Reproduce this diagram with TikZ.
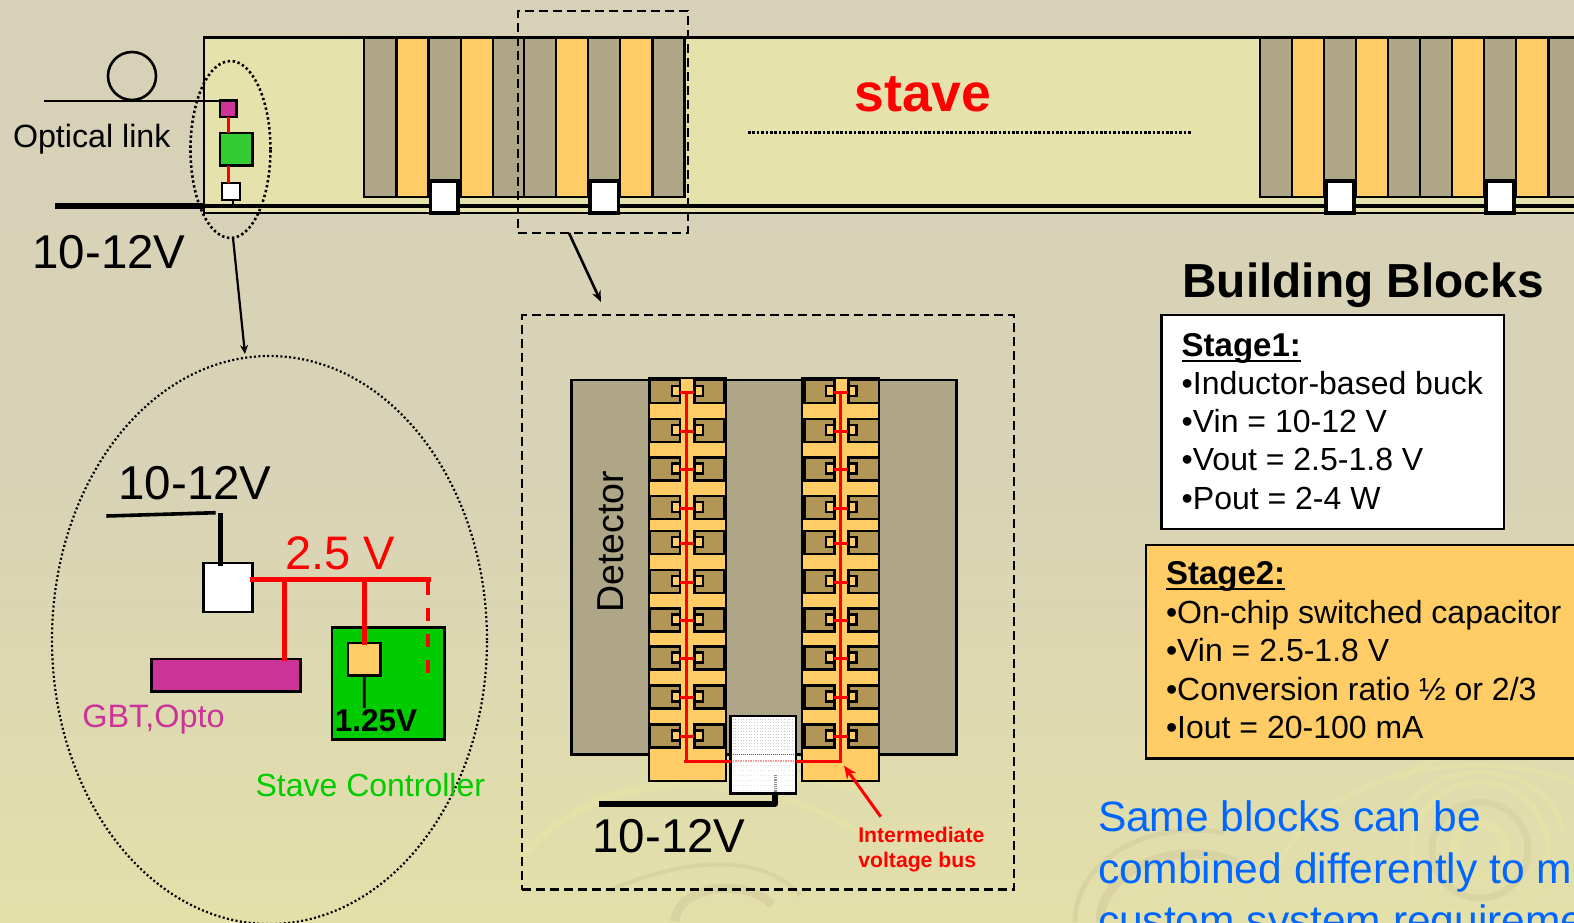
\documentclass[tikz,border=0pt]{standalone}
\usepackage{fontspec}
\usetikzlibrary{shapes.geometric,arrows.meta}
\setmainfont{Liberation Sans}
\definecolor{swl}{HTML}{E6E3A8}
\definecolor{swd}{HTML}{D4CF9E}
\definecolor{bgtop}{HTML}{D7D1B8}
\definecolor{bgmid}{HTML}{D8D2B6}
\definecolor{bgbot}{HTML}{E3E0AA}
\definecolor{stavefill}{HTML}{E6E2AC}
\definecolor{detgrey}{HTML}{AFA688}
\definecolor{ambr}{HTML}{FFCC66}
\definecolor{chipb}{HTML}{B29655}
\definecolor{magn}{HTML}{CC3399}
\definecolor{lgrn}{HTML}{33CC33}
\definecolor{sgrn}{HTML}{00CC00}
\definecolor{blu}{HTML}{0066FF}
\tikzset{
  pbox/.style={draw=black,line width=2.8pt,inner sep=0pt,outer sep=0pt,rectangle},
  mgrey/.style={pbox,fill=detgrey},
  mamb/.style={pbox,fill=ambr},
  chip/.style={pbox,fill=chipb,line width=2.5pt},
  pad/.style={pbox,fill=ambr,line width=2.6pt},
  txt/.style={inner sep=0pt,outer sep=0pt,anchor=base,font=#1},
  ltxt/.style={inner sep=0pt,outer sep=0pt,anchor=base west,font=#1},
  redl/.style={draw=red,line width=#1},
  swirl/.style={line width=#1,line cap=butt},
  dashbox/.style={draw,line width=2.6pt,dash pattern=on 9pt off 5pt,inner sep=0pt,outer sep=0pt},
  dotell/.style={draw,ellipse,inner sep=0pt,outer sep=0pt,dash pattern=on 2.4pt off 2.6pt},
  uline/.style={line width=2.6pt},
}
\newcommand{\bx}[6]{\node[#6,minimum width={(#4-#2)*1pt},minimum height={(#5-#3)*1pt}] (#1) at ({(#2+#4)/2},{(#3+#5)/2}) {};}
\begin{document}
\begin{tikzpicture}[x=1pt,y=-1pt]
\useasboundingbox (0,0) rectangle (1574,922);
\begin{scope}
\clip (0,0) rectangle (1574,922);
% background
\fill[top color=bgtop,bottom color=bgbot,middle color=bgmid] (0,0) rectangle (1574,922);
% swirls (background art)
\begin{scope}[opacity=.7]
\draw[swl,swirl=9pt] (1480,850) circle (26);
\draw[swd,swirl=7pt,opacity=.5] (1480,850) circle (48);
\draw[swl,swirl=6pt] (1480,850) circle (68);
\draw[swl,swirl=5pt] (1396,842) arc (180:350:84 and 70);
\draw[swl,swirl=5pt] (1270,905) arc (180:300:205 and 140);
\draw[swl,swirl=6pt] (1402,778) arc (230:262:105);
\draw[swd,swirl=9pt] (1100,922) arc (180:300:92 and 68);
\draw[swd,swirl=5pt] (1075,922) arc (180:285:118 and 92);
\draw[swl,swirl=7pt] (1125,922) arc (180:345:62 and 42);
\draw[swd,swirl=9pt] (675,922) arc (180:330:52 and 34);
\draw[swl,swirl=7pt] (520,860) arc (200:300:240 and 130);
\draw[swl,swirl=6pt] (590,800) .. controls (700,770) and (800,790) .. (870,840);
\draw[swd,swirl=4pt] (610,890) .. controls (680,860) and (760,850) .. (800,895);
\end{scope}
% stave
\bx{stave}{204}{37.5}{1600}{213}{pbox,fill=stavefill}
\foreach \n/\a/\s in {1/364/mgrey,2/396.5/mamb,3/429/mgrey,4/461/mamb,5/493/mgrey,6/524/mgrey,7/556/mamb,8/588/mgrey,9/620/mamb,10/652.5/mgrey,11/1260/mgrey,12/1292/mamb,13/1324/mgrey,14/1356/mamb,15/1388/mgrey,16/1420/mgrey,17/1452/mamb,18/1484/mgrey,19/1516/mamb,20/1549/mgrey}{
  \pgfmathsetmacro{\b}{\a+32}
  \bx{mod\n}{\a}{37.5}{\b}{197}{\s}
}
\coordinate (busL) at (204,206);
\coordinate (busR) at (1600,206);
\draw[line width=3.8pt] (busL) -- (busR);
\bx{reg1}{430.5}{181}{458}{213}{pbox,fill=white,line width=3.2pt}
\bx{reg2}{590}{181}{618.5}{213}{pbox,fill=white,line width=3.2pt}
\bx{reg3}{1326}{181}{1354}{213}{pbox,fill=white,line width=3.2pt}
\bx{reg4}{1486}{181}{1514}{213}{pbox,fill=white,line width=3.2pt}
% optical link
\node[draw,line width=2.6pt,circle,minimum size=48pt,inner sep=0pt,outer sep=0pt] (loop) at (132,76) {};
\coordinate (fibre) at (43.5,101);
\bx{smag}{220}{100.7}{236.5}{117}{pbox,fill=magn}
\bx{sgreen}{220}{133}{252.5}{165.7}{pbox,fill=lgrn}
\bx{swhite}{222}{183}{240}{200}{pbox,fill=white}
\draw[line width=2.8pt] (fibre) -- (smag.west |- fibre);
\draw[redl=3pt] (smag.south) -- (smag.south |- sgreen.north);
\draw[redl=3pt] (smag.south |- sgreen.south) -- (smag.south |- swhite.north);
\coordinate (swb) at (233,200);
\draw[line width=2.8pt] (swb) -- (swb |- busL);
\coordinate (feed) at (55,206);
\draw[line width=6.5pt] (feed) -- (busL);
\node[ltxt=\fontsize{32.2}{32}\selectfont] (optlbl) at (13,147) {Optical link};
\node[txt=\fontsize{47.5}{47}\selectfont] (v1) at (109,268) {10-12V};
\node[txt=\fontsize{53.5}{53}\bfseries\selectfont,text=red] (stavelbl) at (923,111) {stave};
\coordinate (dl) at (748,132.5);
\coordinate (dr) at (1192,132.5);
\draw[line width=3.4pt,dash pattern=on 2.6pt off 1.8pt] (dl) -- (dr);
% zoom marks
\node[dotell,line width=2.6pt,minimum width=80pt,minimum height=177pt] (eA) at (230.5,149.5) {};
\bx{boxA}{518}{11}{688}{233}{dashbox}
\coordinate (boxAb) at (569,233);
% left detail
\node[dotell,line width=2.2pt,dash pattern=on 2pt off 2.4pt,minimum width=435pt,minimum height=568pt] (eB) at (269.5,640) {};
\coordinate (eAb) at (233,238);
\coordinate (eBt) at (245,354);
\draw[line width=2.2pt,-{Stealth[length=9pt,width=8pt]}] (eAb) -- (eBt);
\node[txt=\fontsize{47.5}{47}\selectfont] (v2) at (195,499.3) {10-12V};
\coordinate (inL) at (106.3,516);
\coordinate (inR) at (215.7,512.7);
\draw[line width=3.6pt] (inL) -- (inR);
\bx{bigwhite}{203.7}{563}{252.7}{612}{pbox,fill=white}
\coordinate (vt) at (220.3,513);
\draw[line width=4.4pt] (vt) -- (220.3,566);
\bx{gbt}{151.7}{659}{300.7}{691.7}{pbox,fill=magn}
\bx{ctrl}{332}{627.3}{444.3}{739.7}{pbox,fill=sgrn}
\bx{ldo}{348}{643}{380.7}{675.7}{pbox,fill=ambr}
\coordinate (rbE) at (430.7,579.3);
\coordinate (rbW) at (250,579.3);
\draw[redl=4.8pt] (rbW) -- (rbE);
\draw[redl=4.8pt] (284.3,579.3) -- (284.3,661);
\draw[redl=4.8pt] (364.3,579.3) -- (364.3,645);
\draw[redl=4.8pt,dash pattern=on 13pt off 13pt] (428,581.5) -- (428,676);
\draw[line width=2.8pt] (ldo.south) -- (364.3,708);
\node[txt=\fontsize{31.5}{31}\bfseries\selectfont] (v125) at (376,731.5) {1.25V};
\node[txt=\fontsize{47}{46}\selectfont,text=red] (v25) at (340,569) {2.5 V};
\node[txt=\fontsize{32.4}{32}\selectfont,text=magn] (gbtlbl) at (153.5,727.3) {GBT,Opto};
\node[txt=\fontsize{32}{32}\selectfont,text=sgrn] (ctrllbl) at (370.3,796) {Stave Controller};
% centre detail
\bx{boxB}{522}{315}{1014}{889.5}{dashbox}
\coordinate (boxBt) at (601,302);
\draw[line width=2.6pt,-{Stealth[length=11pt,width=9pt]}] (boxAb) -- (boxBt);
\bx{det}{571.7}{380}{956.7}{754.3}{pbox,fill=detgrey}
\node[txt=\fontsize{37.5}{37}\selectfont,rotate=90] (detlbl) at (623,541.7) {Detector};
\bx{stripA}{648.7}{378}{725.7}{781.3}{pbox,fill=ambr,line width=2pt}
\bx{stripB}{802.3}{378}{879.3}{781.3}{pbox,fill=ambr,line width=2pt}
\foreach \i/\t in {1/380,2/419,3/457.3,4/496,5/531,6/570,7/608.7,8/646.7,9/685.3,10/724.3}{
  \pgfmathsetmacro{\bt}{\t+23}
  \pgfmathsetmacro{\pt}{\t+6}
  \pgfmathsetmacro{\pb}{\t+16}
  \bx{ca\i}{650}{\t}{680}{\bt}{chip}
  \bx{cb\i}{694.3}{\t}{724.3}{\bt}{chip}
  \bx{cc\i}{804.3}{\t}{834.3}{\bt}{chip}
  \bx{cd\i}{848.3}{\t}{879}{\bt}{chip}
  \bx{pa\i}{672}{\pt}{680}{\pb}{pad}
  \bx{pb\i}{694.3}{\pt}{703}{\pb}{pad}
  \bx{pc\i}{826}{\pt}{834.3}{\pb}{pad}
  \bx{pd\i}{848.3}{\pt}{856.7}{\pb}{pad}
  \pgfmathsetmacro{\ry}{\t+12}
  \draw[redl=3pt] (680,\ry) -- (694.3,\ry);
  \draw[redl=3pt] (834.3,\ry) -- (848.3,\ry);
}
\coordinate (ibA) at (686.3,761);
\coordinate (ibB) at (840.7,761);
\draw[redl=3pt] (686.3,390.7) -- (ibA);
\draw[redl=3pt] (840.7,390.7) -- (ibB);
\bx{conv}{730.7}{716}{796}{793.3}{pbox,fill=white}
\draw[redl=3pt] (684.3,761) -- (conv.west |- ibA);
\draw[redl=3pt] (conv.east |- ibB) -- (842,761);
\foreach \yy in {719,722,...,750}{\draw[black!22,line width=.7pt,dash pattern=on 1pt off 1.7pt] (732.5,\yy) -- (794.5,\yy);}
\foreach \yy in {765,770,...,790}{\draw[black!10,line width=.7pt,dash pattern=on 1pt off 1.7pt] (732.5,\yy) -- (794.5,\yy);}
\draw[black!65,line width=1.6pt,dash pattern=on 1pt off 1pt] (732.5,754.3) -- (794.5,754.3);
\draw[red!40,line width=2.6pt,dash pattern=on 1.5pt off 1pt] (732.5,761) -- (794.5,761);
\draw[black!45,line width=3pt,dash pattern=on 1.2pt off 1pt] (775,775) -- (775,792);
\coordinate (pL) at (599.3,804);
\coordinate (pC) at (775,804);
\draw[line width=5.6pt,line join=round] (pL) -- (pC) -- (conv.south -| pC);
\node[txt=\fontsize{47.5}{47}\selectfont] (v3) at (669,852.7) {10-12V};
\coordinate (ivA) at (880.7,816.7);
\coordinate (ivB) at (844,765.7);
\draw[draw=red,line width=3pt,-{Stealth[length=13pt,width=11pt]}] (ivA) -- (ivB);
\node[ltxt=\fontsize{21.2}{21}\bfseries\selectfont,text=red] (ivl1) at (858.3,842) {Intermediate};
\node[ltxt=\fontsize{21.2}{21}\bfseries\selectfont,text=red] (ivl2) at (858.3,867.3) {voltage bus};
% building blocks
\node[txt=\fontsize{47.8}{48}\bfseries\selectfont] (bb) at (1363,297) {Building Blocks};
\bx{st1}{1161.7}{315}{1504}{529}{pbox,fill=white}
\bx{st2}{1146}{545}{1600}{758.7}{pbox,fill=ambr}
\node[ltxt=\fontsize{33}{33}\bfseries\selectfont] (s1h) at (1181.7,356) {Stage1:};
\draw[uline] ([yshift=-4.8pt]s1h.base west) -- ([yshift=-4.8pt]s1h.base east);
\node[ltxt=\fontsize{32}{32}\selectfont] (s1a) at (1181.7,394) {•Inductor-based buck};
\node[ltxt=\fontsize{32}{32}\selectfont] (s1b) at (1181.7,432) {•Vin = 10-12 V};
\node[ltxt=\fontsize{32}{32}\selectfont] (s1c) at (1181.7,470.7) {•Vout = 2.5-1.8 V};
\node[ltxt=\fontsize{32}{32}\selectfont] (s1d) at (1181.7,509) {•Pout = 2-4 W};
\node[ltxt=\fontsize{33}{33}\bfseries\selectfont] (s2h) at (1166,584.3) {Stage2:};
\draw[uline] ([yshift=-4.8pt]s2h.base west) -- ([yshift=-4.8pt]s2h.base east);
\node[ltxt=\fontsize{32}{32}\selectfont] (s2a) at (1166,623.3) {•On-chip switched capacitor};
\node[ltxt=\fontsize{32}{32}\selectfont] (s2b) at (1166,661.7) {•Vin = 2.5-1.8 V};
\node[ltxt=\fontsize{32}{32}\selectfont] (s2c) at (1166,700) {•Conversion ratio ½ or 2/3};
\node[ltxt=\fontsize{32}{32}\selectfont] (s2d) at (1166,738.7) {•Iout = 20-100 mA};
\node[ltxt=\fontsize{42.5}{43}\selectfont,text=blu] (bl1) at (1098,831.7) {Same blocks can be};
\node[ltxt=\fontsize{42.5}{43}\selectfont,text=blu] (bl2) at (1098,883.3) {combined differently to m};
\node[ltxt=\fontsize{42.5}{43}\selectfont,text=blu] (bl3) at (1098,935) {custom system requireme};
\end{scope}
\end{tikzpicture}
\end{document}
